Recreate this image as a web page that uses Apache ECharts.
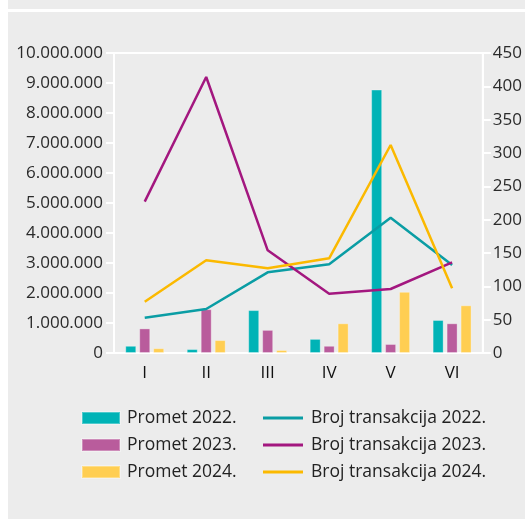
<!DOCTYPE html>
<html>
<head>
<meta charset="utf-8">
<title>Promet i broj transakcija</title>
<script src="https://cdn.jsdelivr.net/npm/echarts@6/dist/echarts.min.js"></script>
<style>
  html, body { margin: 0; padding: 0; background: #fff; }
  #chart { width: 525px; height: 519px; }
</style>
</head>
<body>
<div id="chart"></div>
<script>
  // months
  var months = ['I', 'II', 'III', 'IV', 'V', 'VI'];

  // promet (lijeva os)
  var promet2022 = [240000, 130000, 1430000, 470000, 8780000, 1100000];
  var promet2023 = [820000, 1460000, 770000, 240000, 300000, 990000];
  var promet2024 = [160000, 430000, 100000, 990000, 2040000, 1590000];

  // broj transakcija (desna os)
  var broj2022 = [53, 66, 121, 133, 203, 132];
  var broj2023 = [227, 414, 154, 89, 96, 136];
  var broj2024 = [77, 139, 127, 142, 312, 97];

  var leftTicks = [0, 10000000, 1000000];
  var rightTicks = [0, 450, 50];

  var gray = '#ececec';
  var font = '"Open Sans", "Noto Sans", sans-serif';

  function dots(v) {
    return String(v).replace(/\B(?=(\d{3})+(?!\d))/g, '.');
  }

  function barSeries(name, data, color) {
    return {
      name: name, type: 'bar', yAxisIndex: 0, data: data,
      barWidth: 11, barGap: '27%',
      itemStyle: { color: color, borderColor: 'rgba(255,255,255,0.3)', borderWidth: 1 }
    };
  }

  function lineSeries(name, data, color) {
    return {
      name: name, type: 'line', yAxisIndex: 1, data: data,
      symbol: 'none', z: 3,
      lineStyle: { color: color, width: 2.5 },
      itemStyle: { color: color }
    };
  }

  var chart = echarts.init(document.getElementById('chart'));

  chart.setOption({
    backgroundColor: '#fff',
    textStyle: { fontFamily: font },
    graphic: [
      { type: 'rect', z: -10, shape: { x: 8, y: 0, width: 517, height: 9 }, style: { fill: gray } },
      { type: 'rect', z: -10, shape: { x: 8, y: 12, width: 517, height: 507 }, style: { fill: gray } }
    ],
    grid: {
      left: 114, right: 35, top: 53, bottom: 166,
      show: true, borderColor: '#fff', borderWidth: 2, backgroundColor: 'transparent'
    },
    legend: [
      {
        orient: 'vertical', left: 81, top: 408, padding: 0,
        itemWidth: 38, itemHeight: 12, itemGap: 7, icon: 'rect',
        textStyle: { fontFamily: font, fontSize: 17.5, color: '#222', lineHeight: 20, padding: [0, 0, 0, 2] },
        data: ['Promet 2022.', 'Promet 2023.', 'Promet 2024.']
      },
      {
        orient: 'vertical', left: 263, top: 408, padding: 0,
        itemWidth: 40, itemHeight: 3, itemGap: 7, icon: 'rect',
        textStyle: { fontFamily: font, fontSize: 17.5, color: '#222', lineHeight: 20, padding: [0, 0, 0, 3] },
        data: ['Broj transakcija 2022.', 'Broj transakcija 2023.', 'Broj transakcija 2024.']
      }
    ],
    xAxis: {
      type: 'category', data: months,
      axisLine: { lineStyle: { color: '#fff', width: 2 } },
      axisTick: { show: false },
      axisLabel: { color: '#111', fontSize: 17, fontFamily: font, margin: 12 }
    },
    yAxis: [
      {
        type: 'value', position: 'left',
        min: leftTicks[0], max: leftTicks[1], interval: leftTicks[2],
        splitLine: { show: false },
        axisLine: { show: true, lineStyle: { color: '#fff', width: 2 } },
        axisTick: { show: true, length: 8, lineStyle: { color: '#fff', width: 2 } },
        axisLabel: { color: '#2a2a2a', fontSize: 17, fontFamily: font, margin: 11, formatter: dots }
      },
      {
        type: 'value', position: 'right',
        min: rightTicks[0], max: rightTicks[1], interval: rightTicks[2],
        splitLine: { show: false },
        axisLine: { show: true, lineStyle: { color: '#fff', width: 2 } },
        axisTick: { show: true, length: 8, lineStyle: { color: '#fff', width: 2 } },
        axisLabel: { color: '#2a2a2a', fontSize: 17, fontFamily: font, margin: 10 }
      }
    ],
    series: [
      barSeries('Promet 2022.', promet2022, '#00b3b6'),
      barSeries('Promet 2023.', promet2023, '#b95c9c'),
      barSeries('Promet 2024.', promet2024, '#ffce52'),
      lineSeries('Broj transakcija 2022.', broj2022, '#0a9da4'),
      lineSeries('Broj transakcija 2023.', broj2023, '#a3177f'),
      lineSeries('Broj transakcija 2024.', broj2024, '#fbb900')
    ]
  });
</script>
</body>
</html>
